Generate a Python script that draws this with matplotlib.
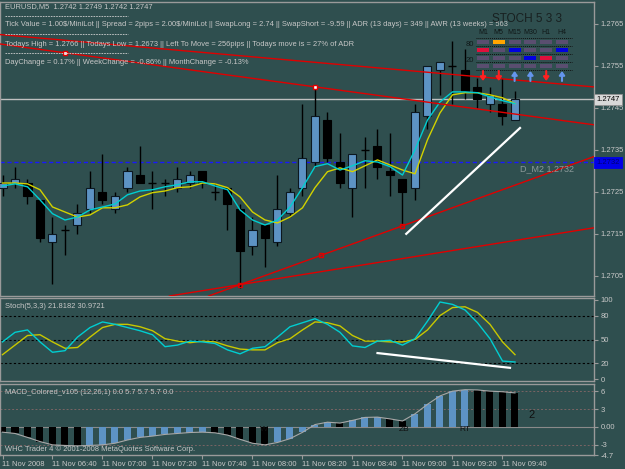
import numpy as np
import matplotlib.pyplot as plt
from matplotlib.patches import Rectangle
from matplotlib.transforms import blended_transform_factory

plt.rcParams['font.family'] = ['Liberation Sans', 'DejaVu Sans']

# EURUSD M5 bars, 11 Nov 2008 06:20 .. 09:45
opens = [1.2726, 1.2727, 1.2727, 1.2723, 1.2713, 1.2716, 1.2717, 1.2721, 1.2725, 1.2721,
         1.2726, 1.2729, 1.2727, 1.2727, 1.2726, 1.2727, 1.2730, 1.2725, 1.2726, 1.2721,
         1.2712, 1.2717, 1.2713, 1.2720, 1.2726, 1.2732, 1.2742, 1.2732, 1.2726, 1.2735,
         1.2736, 1.2730, 1.2728, 1.2726, 1.2743, 1.2754, 1.2755, 1.2754, 1.2750, 1.2746,
         1.2746, 1.2742]
highs = [1.2729, 1.2731, 1.2728, 1.2723, 1.2719, 1.2717, 1.2722, 1.2730, 1.2734, 1.2725,
         1.2731, 1.2736, 1.2730, 1.2728, 1.2731, 1.2730, 1.2730, 1.2727, 1.2726, 1.2722,
         1.2719, 1.2717, 1.2729, 1.2726, 1.2746, 1.2750, 1.2744, 1.2739, 1.2734, 1.2738,
         1.2740, 1.2739, 1.2728, 1.2746, 1.2755, 1.2756, 1.2761, 1.2759, 1.2752, 1.2750,
         1.2752, 1.2749]
lows = [1.2724, 1.2726, 1.2722, 1.2713, 1.2703, 1.2710, 1.2715, 1.2720, 1.2722, 1.2720,
        1.2725, 1.2727, 1.2721, 1.2724, 1.2725, 1.2726, 1.2726, 1.2723, 1.2716, 1.2702,
        1.2710, 1.2707, 1.2712, 1.2719, 1.2724, 1.2731, 1.2732, 1.2726, 1.2719, 1.2726,
        1.2728, 1.2724, 1.2717, 1.2723, 1.2740, 1.2748, 1.2746, 1.2747, 1.2745, 1.2744,
        1.2741, 1.2742]
closes = [1.2727, 1.2728, 1.2724, 1.2714, 1.2715, 1.2716, 1.2720, 1.2726, 1.2723, 1.2724,
          1.2730, 1.2727, 1.2727, 1.2727, 1.2728, 1.2729, 1.2727, 1.2725, 1.2722, 1.2711,
          1.2716, 1.2714, 1.2721, 1.2725, 1.2733, 1.2743, 1.2733, 1.2727, 1.2734, 1.2735,
          1.2731, 1.2729, 1.2725, 1.2744, 1.2755, 1.2756, 1.2755, 1.2749, 1.2747, 1.2748,
          1.2743, 1.2747]

# moving averages
ma_fast = [1.27264, 1.27269, 1.27262, 1.27231, 1.27198, 1.27183, 1.27190, 1.27207, 1.27214, 1.27221,
           1.27243, 1.27252, 1.27255, 1.27262, 1.27267, 1.27274, 1.27274, 1.27264, 1.27255, 1.27207,
           1.27183, 1.27171, 1.27183, 1.27214, 1.27260, 1.27310, 1.27317, 1.27302, 1.27312, 1.27324,
           1.27321, 1.27310, 1.27290, 1.27350, 1.27421, 1.27464, 1.27488, 1.27488, 1.27486, 1.27476,
           1.27467, 1.27460]
ma_slow = [1.27271, 1.27271, 1.27269, 1.27255, 1.27214, 1.27202, 1.27190, 1.27195, 1.27212, 1.27212,
           1.27219, 1.27238, 1.27248, 1.27252, 1.27260, 1.27262, 1.27271, 1.27269, 1.27260, 1.27238,
           1.27202, 1.27183, 1.27176, 1.27190, 1.27212, 1.27260, 1.27298, 1.27307, 1.27298, 1.27312,
           1.27326, 1.27314, 1.27302, 1.27293, 1.27374, 1.27438, 1.27481, 1.27486, 1.27486, 1.27481,
           1.27474, 1.27460]

stoch_k = [47, 59, 62, 47, 34, 36, 53, 65, 72, 69, 65, 61, 56, 41, 43, 48, 47, 45, 37, 32,
           39, 41, 53, 66, 71, 76, 69, 59, 42, 40, 48, 49, 43, 51, 73, 97, 94, 87, 71, 51,
           23, 21.8]
stoch_d = [31, 43, 55, 56, 47, 39, 40, 53, 65, 69, 69, 66, 61, 51, 48, 46, 48, 47, 42, 38,
           37, 37, 46, 51, 62, 72, 71, 67, 55, 48, 48, 47, 47, 50, 62, 80, 90, 91, 84, 69,
           47, 31.0]

macd = [-0.87, -1.09, -1.75, -2.45, -3.0, -3.1, -3.16, -3.1, -3.0, -2.73,
        -2.18, -1.75, -1.53, -1.25, -1.09, -0.93, -0.87, -0.98, -1.36, -2.07,
        -2.73, -3.0, -2.6, -1.96, -0.9, 0.4, 0.8, 0.65, 1.1, 1.6,
        1.65, 1.35, 1.0, 2.2, 3.8, 5.2, 6.0, 6.25, 6.2, 6.0,
        5.9, 5.7]

time_labels = ['11 Nov 2008', '11 Nov 06:40', '11 Nov 07:00', '11 Nov 07:20', '11 Nov 07:40',
               '11 Nov 08:00', '11 Nov 08:20', '11 Nov 08:40', '11 Nov 09:00', '11 Nov 09:20',
               '11 Nov 09:40']
price_ticks = [1.2705, 1.2715, 1.2725, 1.2735, 1.2745, 1.2755, 1.2765]

# trend lines as (bar, price) anchor pairs
down_upper = [(0, 1.27624), (40, 1.27519)]
down_lower = [(5, 1.27581), (25, 1.27500)]
up_steep = [(19, 1.27029), (32, 1.27169)]
up_flat = [(19, 1.27029), (47.24, 1.27164)]
white_price = [(32.3, 1.27150), (41.4, 1.27402)]
white_stoch = [(30, 33), (40.6, 14.5)]

bid = 1.2747
d_m2 = 1.2732

# stoch 5/3/3 multi-timeframe table (row -> colour per timeframe, None = empty)
tf_names = ['M1', 'M5', 'M15', 'M30', 'H1', 'H4']
tf_rows = [[None, 'orange', None, None, None, None],
           ['crimson', None, 'blue', None, None, 'blue'],
           [None, None, None, 'blue', 'crimson', None],
           [None, None, None, None, None, None]]
tf_arrows = ['down', 'down', 'up', 'up', 'down', 'up']

bg = '#2f4f4f'
grey = '#c8c8c8'
edge = '#9a9a9a'
blue_fill = '#5d93c4'

W, H = 625, 469
fig = plt.figure(figsize=(6.25, 4.69), dpi=100, facecolor=bg)


def box(x0, y0, x1, y1):
    return [x0 / W, 1 - y1 / H, (x1 - x0) / W, (y1 - y0) / H]


ax = fig.add_axes(box(0, 2, 594, 296))
ax_st = fig.add_axes(box(0, 298, 594, 381))
ax_md = fig.add_axes(box(0, 384, 594, 455))

idx = np.arange(len(opens))
o, h, l, c = map(np.array, (opens, highs, lows, closes))

for a in (ax, ax_st, ax_md):
    a.set_facecolor(bg)
    a.set_xlim(-0.2, 47.32)
    for s in a.spines.values():
        s.set_color(edge)
        s.set_linewidth(1)
    a.yaxis.tick_right()
    a.tick_params(axis='y', colors=edge, labelcolor=grey, length=3, labelsize=5.5, pad=2)
    a.tick_params(axis='x', colors=edge, labelcolor=grey, length=3, labelsize=5.5, pad=2)
    a.set_xticks([])

# ---- main price panel
ax.set_ylim(1.27002, 1.27702)
ax.set_yticks(price_ticks)
ax.set_yticklabels(['%.4f' % p for p in price_ticks])

ax.axhline(bid, color='#c0c0c0', lw=1, zorder=1.5)
ax.axhline(d_m2, color='#1818ff', lw=1, ls=(0, (3, 2)), zorder=1.5)

ax.vlines(idx, l, h, color='black', lw=1, zorder=2)
up = c > o
dn = c < o
ax.bar(idx[up], (c - o)[up], bottom=o[up], width=0.64, color=blue_fill,
       edgecolor='#0c1820', lw=0.8, zorder=3)
ax.bar(idx[dn], (o - c)[dn], bottom=c[dn], width=0.64, color='black',
       edgecolor='black', lw=0.8, zorder=3)
doji = c == o
ax.hlines(c[doji], idx[doji] - 0.32, idx[doji] + 0.32, color='black', lw=1, zorder=3)

ax.plot(idx, ma_slow, color='#d2d200', lw=1, zorder=4)
ax.plot(idx, ma_fast, color='#00ced1', lw=1, zorder=4)

for line in (down_upper, down_lower, up_steep, up_flat):
    ax.axline(line[0], line[1], color='#e00000', lw=1, zorder=5)
ax.plot(*zip(*white_price), color='white', lw=1.6, zorder=6)

# anchor squares on the trend lines
ax.plot([down_lower[0][0], down_lower[1][0]], [down_lower[0][1], down_lower[1][1]], ls='none',
        marker='s', ms=3.5, mfc='white', mec='#e00000', mew=1, zorder=7)
sq_x = np.array([19, 25.5, 32])
sq_y = up_steep[0][1] + (sq_x - up_steep[0][0]) * (up_steep[1][1] - up_steep[0][1]) / (up_steep[1][0] - up_steep[0][0])
ax.plot(sq_x, sq_y, ls='none', marker='s', ms=3.5, mfc='none', mec='#e00000', mew=1, zorder=7)

ax.text(45.7, d_m2 - 0.00005, 'D_M2 1.2732', color='#8c9a9a', fontsize=6.5, ha='right', va='top', zorder=6)

bt = blended_transform_factory(ax.transAxes, ax.transData)
ax.text(1.004, bid, '%.4f' % bid, transform=bt, fontsize=5.5, color='black', va='center', ha='left',
        bbox=dict(boxstyle='square,pad=0.25', fc='#d8d8d8', ec='#909090', lw=0.6), clip_on=False, zorder=8)
ax.text(1.004, d_m2, '%.4f' % d_m2, transform=bt, fontsize=5.5, color='#000070', va='center', ha='left',
        bbox=dict(boxstyle='square,pad=0.25', fc='#0000e8', ec='#0000e8', lw=0.6), clip_on=False, zorder=8)

# ---- stochastic panel
ax_st.set_ylim(-2, 102)
ax_st.set_yticks([0, 20, 50, 80, 100])
for lv in (20, 50, 80):
    ax_st.axhline(lv, color='black', lw=0.8, ls=(0, (2, 2)), zorder=1)
ax_st.plot(idx, stoch_d, color='#c8c800', lw=1, zorder=3)
ax_st.plot(idx, stoch_k, color='#00ced1', lw=1, zorder=3)
ax_st.plot(*zip(*white_stoch), color='white', lw=1.6, zorder=4)

# ---- MACD panel
ax_md.set_ylim(-4.7, 7.2)
ax_md.set_yticks([-4.7, -3, 0, 3, 6])
ax_md.set_yticklabels(['-4.7', '-3', '0.00', '3', '6'])
m = np.array(macd)
rising = np.r_[False, np.diff(m) > 0]
ax_md.bar(idx, m, width=0.56, color=np.where(rising, blue_fill, 'black'), zorder=2)
ax_md.plot(idx, m, color='#a8a8a8', lw=0.8, zorder=3)
ax_md.axhline(0, color='#8a8a8a', lw=0.8, zorder=1)
for lv in (-3, 3, 6):
    ax_md.axhline(lv, color='#7a6464', lw=0.7, ls=(0, (2, 2)), zorder=1)
ax_md.text(20.9, -0.35, 'W', fontsize=6, color='#101010', ha='center', va='center', zorder=4)
ax_md.text(32.1, -0.45, 'ZB', fontsize=6, color='#101010', ha='center', va='center', zorder=4)
ax_md.text(37.0, -0.45, 'RT', fontsize=6, color='#101010', ha='center', va='center', zorder=4)
ax_md.text(42.3, 2.0, '2', fontsize=8, color='#101010', ha='center', va='center', zorder=4)

ax_md.set_xticks(idx[::4])
ax_md.set_xticklabels(time_labels, ha='left')
ax_md.tick_params(axis='x', pad=1.5)

# ---- overlay for texts drawn in screen position
ov = fig.add_axes([0, 0, 1, 1])
ov.set_xlim(0, W)
ov.set_ylim(H, 0)
ov.axis('off')
ov.set_zorder(10)
ov.patch.set_alpha(0)

fs = 5.4
info = ['EURUSD,M5  1.2742 1.2749 1.2742 1.2747',
        'Tick Value = 1.00$/MiniLot || Spread = 2pips = 2.00$/MiniLot || SwapLong = 2.74 || '
        'SwapShort = -9.59 || ADR (13 days) = 349 || AWR (13 weeks) = 563',
        'Todays High = 1.2766 || Todays Low = 1.2673 || Left To Move = 256pips || Todays move is = 27% of ADR',
        'DayChange = 0.17% || WeekChange = -0.86% || MonthChange = -0.13%']
for t, yy in zip(info, [7, 24, 44, 62]):
    ov.text(5, yy, t, fontsize=fs, color=grey, va='center', ha='left', parse_math=False)
for yy in (16, 34, 53):
    ov.plot([5, 128], [yy, yy], color='#d0d0d0', lw=0.6, ls=(0, (2, 1.2)))

ov.text(5, 307, 'Stoch(5,3,3) 21.8182 30.9721', fontsize=fs, color=grey, va='center')
ov.text(5, 392, 'MACD_Colored_v105 (12,26,1) 0.0 5.7 5.7 5.7 0.0', fontsize=fs, color=grey, va='center')
ov.text(5, 449, 'WHC Trader 4 \u00a9 2001-2008 MetaQuotes Software Corp.', fontsize=fs, color=grey, va='center')

# stoch table
ov.text(527, 19, 'STOCH 5 3 3', fontsize=8.5, color='#182020', ha='center', va='center')
col_x = 483 + 15.8 * np.arange(len(tf_names))
row_y = [42, 50, 58, 66]
for cx, name in zip(col_x, tf_names):
    ov.text(cx, 33, name, fontsize=5, color='#101818', ha='center', va='center')
for yy in (38, 46, 54, 62, 70):
    ov.plot([476, 572], [yy, yy], color='#101010', lw=0.7, ls=(0, (1, 1)))
cell_colors = {'orange': '#ffa500', 'crimson': '#e0103c', 'blue': '#0000e0'}
for ry, row in zip(row_y, tf_rows):
    for cx, state in zip(col_x, row):
        fc = cell_colors[state] if state else '#5a4e70'
        ov.add_patch(Rectangle((cx - 6, ry - 2), 12, 4, fc=fc, ec='none'))
ov.text(474, 44, '80', fontsize=5.5, color='#101818', ha='right', va='center')
ov.text(474, 60, '20', fontsize=5.5, color='#101818', ha='right', va='center')
for cx, a in zip(col_x, tf_arrows):
    if a == 'up':
        y0, y1, col = 81, 71, '#6495ed'
    else:
        y0, y1, col = 71, 81, '#ff2020'
    ov.annotate('', xy=(cx, y1), xytext=(cx, y0),
                arrowprops=dict(arrowstyle='-|>,head_width=0.16,head_length=0.22', color=col, lw=1.5,
                                shrinkA=0, shrinkB=0))

fig.savefig('out.png', dpi=100, facecolor=bg)
